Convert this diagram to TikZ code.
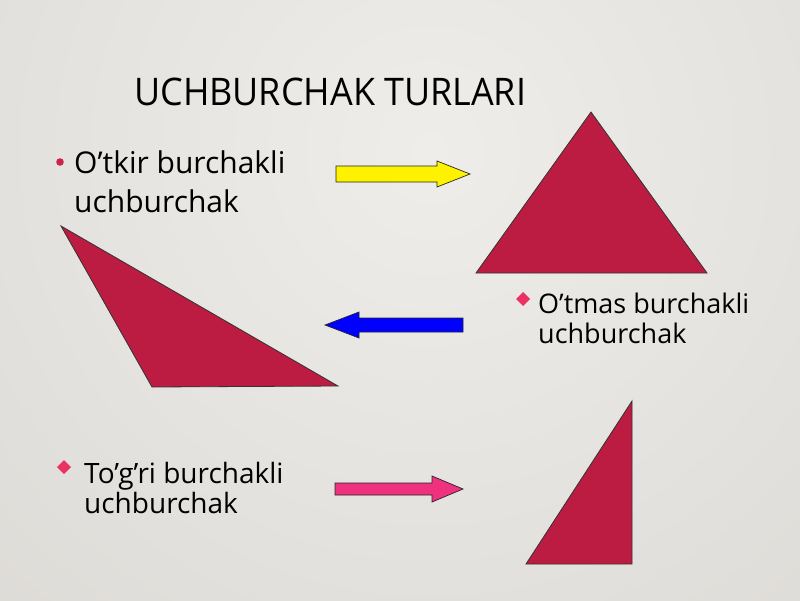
\documentclass[tikz,border=0pt]{standalone}
\usepackage{fontspec}
\setmainfont{Open Sans}
\definecolor{bgin}{RGB}{238,237,234}
\definecolor{bgout}{RGB}{212,209,204}
\definecolor{tri}{RGB}{188,28,66}
\definecolor{bulletdot}{RGB}{205,35,75}
\definecolor{bulletdia}{RGB}{236,50,100}
\definecolor{arrpink}{RGB}{238,50,128}
\tikzset{
  triangle/.style={fill=tri, draw=black!80, line width=0.8pt, line join=miter},
  blockarrow/.style={draw=black!85, line width=0.7pt, line join=miter},
  title/.style={anchor=base west, inner sep=0pt, font=\fontsize{38}{44}\selectfont},
  item/.style={anchor=base west, inner sep=0pt, font=\fontsize{28}{32}\selectfont},
  itembig/.style={anchor=base west, inner sep=0pt, font=\fontsize{30}{34}\selectfont},
  itemsmall/.style={anchor=base west, inner sep=0pt, font=\fontsize{27}{32}\selectfont},
}
\begin{document}
\begin{tikzpicture}[x=1pt,y=-1pt]
\useasboundingbox (0,0) rectangle (800,600);
\begin{scope}
  \clip (0,0) rectangle (800,600);
  \shade[inner color=bgin, outer color=bgout] (430,150) circle (1000);
\end{scope}

% title
\node[title] (title) at (134,105) {\scalebox{0.945}[1]{UCHBURCHAK TURLARI}};

% item 1
\fill[bulletdot] (60,162) circle (3.8);
\node[itembig] (t1a) at (74,173) {O’tkir burchakli};
\node[itembig] (t1b) at (74,212) {uchburchak};

% item 2
\fill[bulletdia] (523,292) -- (530,299) -- (523,306) -- (516,299) -- cycle;
\node[itemsmall] (t2a) at (538,313) {O’tmas burchakli};
\node[itemsmall] (t2b) at (538,343) {uchburchak};

% item 3
\fill[bulletdia] (64,460) -- (71,467) -- (64,474) -- (57,467) -- cycle;
\node[item] (t3a) at (84,483) {To’g’ri burchakli};
\node[item] (t3b) at (84,513) {uchburchak};

% arrows
\draw[blockarrow, fill=yellow] (336,166) -- (437,166) -- (437,161) -- (470,174) -- (437,187) -- (437,182) -- (336,182) -- cycle;
\draw[blockarrow, fill=blue] (463,318) -- (359,318) -- (359,312) -- (325,325) -- (359,338) -- (359,332) -- (463,332) -- cycle;
\draw[blockarrow, fill=arrpink] (335,483) -- (432,483) -- (432,476) -- (463,489) -- (432,502) -- (432,495) -- (335,495) -- cycle;

% triangles
\draw[triangle] (591,112) -- (707,273) -- (476,273) -- cycle;
\draw[triangle] (61,226) -- (338,386) -- (152,387) -- cycle;
\draw[triangle] (632,401) -- (632,564) -- (526,564) -- cycle;
\end{tikzpicture}
\end{document}
